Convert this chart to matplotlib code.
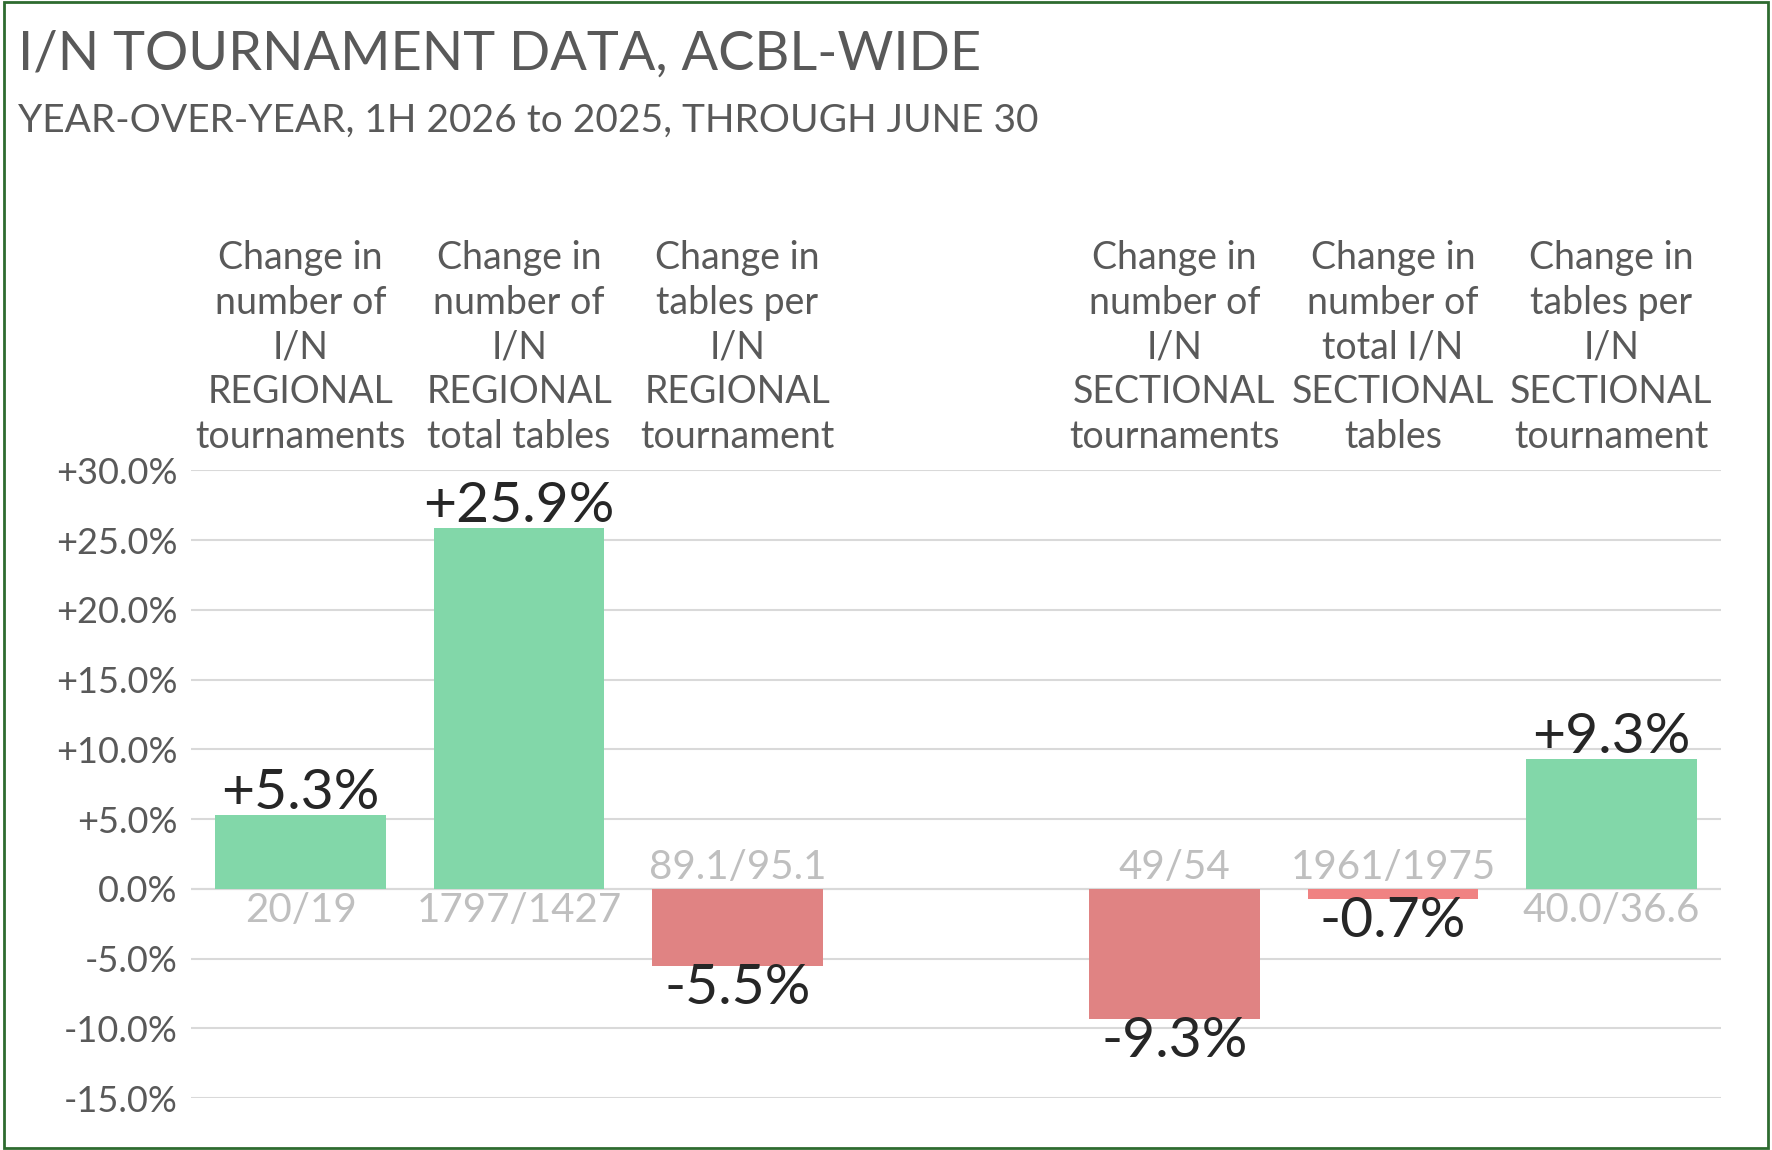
import matplotlib
matplotlib.use('Agg')
import matplotlib.pyplot as plt
from matplotlib.patches import Rectangle

plt.rcParams['font.family'] = ['Lato', 'DejaVu Sans']

categories = [
    "Change in\nnumber of\nI/N\nREGIONAL\ntournaments",
    "Change in\nnumber of\nI/N\nREGIONAL\ntotal tables",
    "Change in\ntables per\nI/N\nREGIONAL\ntournament",
    "",
    "Change in\nnumber of\nI/N\nSECTIONAL\ntournaments",
    "Change in\nnumber of\ntotal I/N\nSECTIONAL\ntables",
    "Change in\ntables per\nI/N\nSECTIONAL\ntournament",
]
values = [5.3, 25.9, -5.5, None, -9.3, -0.7, 9.3]
ratios = ["20/19", "1797/1427", "89.1/95.1", "", "49/54", "1961/1975", "40.0/36.6"]
bar_colors = ["#82D7A9", "#82D7A9", "#E08383", None, "#E08383", "#F08282", "#82D7A9"]
yticks = [-15, -10, -5, 0, 5, 10, 15, 20, 25, 30]

fig = plt.figure(figsize=(17.72, 11.5), dpi=100)
fig.patches.append(Rectangle((0.002, 0.002), 0.996, 0.996, transform=fig.transFigure,
                             fill=False, edgecolor="#2E6B30", linewidth=2))
ax = fig.add_axes([0.108, 0.045, 0.863, 0.546])

for i, v in enumerate(values):
    if v is None:
        continue
    ax.bar(i, v, width=0.78, color=bar_colors[i], zorder=3)
    if v > 0:
        ax.text(i, v - 0.3, f"+{v:.1f}%", ha='center', va='bottom', fontsize=41, color="#262626", zorder=4)
        ax.text(i, -0.2, ratios[i], ha='center', va='top', fontsize=29, color="#BFBFBF")
    else:
        ax.text(i, v + 0.2, f"{v:.1f}%", ha='center', va='top', fontsize=41, color="#262626", zorder=4)
        ax.text(i, 0.2, ratios[i], ha='center', va='bottom', fontsize=29, color="#BFBFBF")
    ax.text(i, 1.025, categories[i], transform=ax.get_xaxis_transform(), ha='center', va='bottom',
            fontsize=27, color="#595959", linespacing=1.3)

ax.set_xlim(-0.5, 6.5)
ax.set_ylim(-15, 30)
ax.set_yticks(yticks)
ax.set_yticklabels([f"{t:+.1f}%" if t != 0 else "0.0%" for t in yticks], fontsize=26, color="#595959")
ax.set_xticks([])
ax.grid(True, axis='y', color="#D9D9D9", linewidth=1.5, zorder=0)
ax.axhline(0, color="#D9D9D9", linewidth=1.5, zorder=1)
for s in ax.spines.values():
    s.set_visible(False)
ax.tick_params(axis='y', length=0, pad=10)

fig.text(0.01, 0.953, "I/N TOURNAMENT DATA, ACBL-WIDE", fontsize=39, color="#595959", va='center')
fig.text(0.01, 0.895, "YEAR-OVER-YEAR, 1H 2026 to 2025, THROUGH JUNE 30", fontsize=28, color="#595959", va='center')

fig.savefig("out.png", dpi=100)
